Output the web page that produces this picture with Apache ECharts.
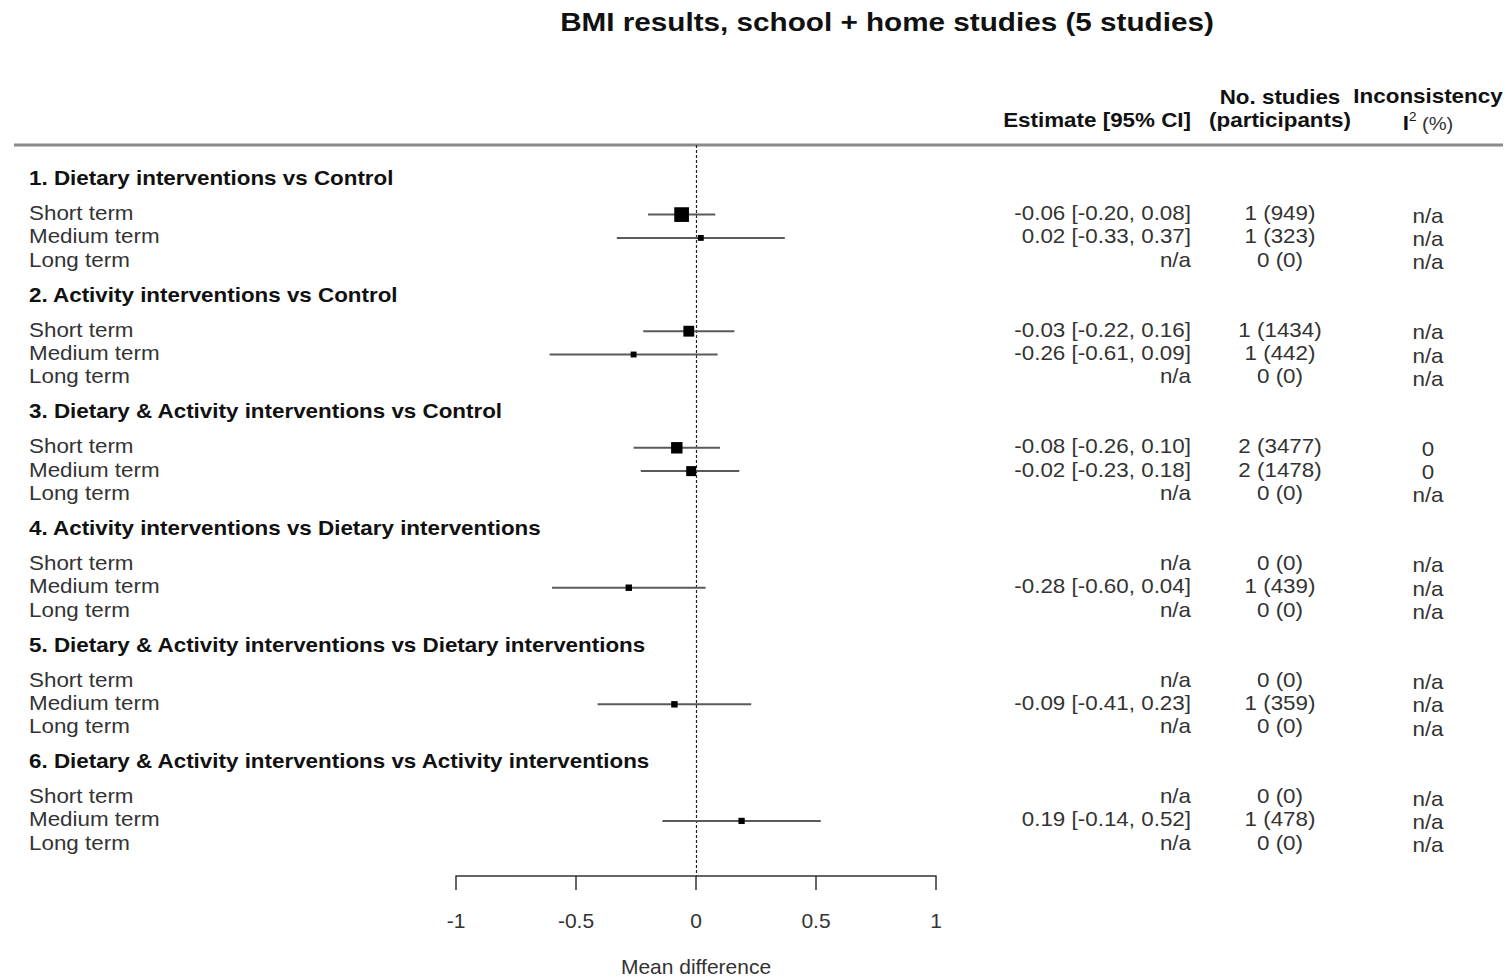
<!DOCTYPE html>
<html>
<head>
<meta charset="utf-8">
<script src="https://cdn.jsdelivr.net/npm/echarts@6/dist/echarts.min.js"></script>
<style>
html,body{margin:0;padding:0;background:#fff;}
#chart{width:1506px;height:977px;}
</style>
</head>
<body>
<div id="chart"></div>
<script>
// ---------------- DATA ----------------
const titleText = 'BMI results, school + home studies (5 studies)';
const groups = [
  '1. Dietary interventions vs Control',
  '2. Activity interventions vs Control',
  '3. Dietary & Activity interventions vs Control',
  '4. Activity interventions vs Dietary interventions',
  '5. Dietary & Activity interventions vs Dietary interventions',
  '6. Dietary & Activity interventions vs Activity interventions'
];
const terms = ['Short term', 'Medium term', 'Long term'];
const estimate = [[-0.06, 0.02, null], [-0.03, -0.26, null], [-0.08, -0.02, null], [null, -0.28, null], [null, -0.09, null], [null, 0.19, null]];
const ciLower  = [[-0.20, -0.33, null], [-0.22, -0.61, null], [-0.26, -0.23, null], [null, -0.60, null], [null, -0.41, null], [null, -0.14, null]];
const ciUpper  = [[0.08, 0.37, null], [0.16, 0.09, null], [0.10, 0.18, null], [null, 0.04, null], [null, 0.23, null], [null, 0.52, null]];
const nStudies = [[1, 1, 0], [1, 1, 0], [2, 2, 0], [0, 1, 0], [0, 1, 0], [0, 1, 0]];
const participants = [[949, 323, 0], [1434, 442, 0], [3477, 1478, 0], [0, 439, 0], [0, 359, 0], [0, 478, 0]];
const iSquared = [[null, null, null], [null, null, null], [0, 0, null], [null, null, null], [null, null, null], [null, null, null]];
const xTickMin = -1, xTickMax = 1, xTickStep = 0.5;
const xAxisTitle = 'Mean difference';
const colHeaders = {
  estimate: 'Estimate [95% CI]',
  studies1: 'No. studies',
  studies2: '(participants)',
  incons1: 'Inconsistency'
};

// ---------------- LAYOUT ----------------
const FONT = "'Liberation Sans', Arial, Helvetica, sans-serif";
const SX = 1.12;          // horizontal stretch of text in the reference
const ROW = 23.32;        // px per row unit
const GRID_TOP = 145, GRID_H = 731, GRID_LEFT = 456, GRID_W = 480;
const Y_MAX = GRID_H / ROW;
function headY(g) { return 1.42 + 5 * g; }
function termY(g, t) { return 2.92 + 5 * g + t; }
const fmt2 = v => v.toFixed(2);

// rows for text
const rows = [];
groups.forEach((name, g) => {
  rows.push({ kind: 'head', text: name, y: headY(g) });
  terms.forEach((tn, t) => {
    const e = estimate[g][t];
    rows.push({
      kind: 'term', text: tn, y: termY(g, t),
      est: e == null ? 'n/a' : fmt2(e) + ' [' + fmt2(ciLower[g][t]) + ', ' + fmt2(ciUpper[g][t]) + ']',
      stud: nStudies[g][t] + ' (' + participants[g][t] + ')',
      i2: iSquared[g][t] == null ? 'n/a' : String(iSquared[g][t])
    });
  });
});

// forest points
const forest = [];
groups.forEach((name, g) => {
  terms.forEach((tn, t) => {
    if (estimate[g][t] != null) forest.push([estimate[g][t], ciLower[g][t], ciUpper[g][t], termY(g, t)]);
  });
});

const chart = echarts.init(document.getElementById('chart'), null, { renderer: 'svg' });

function txt(x, y, text, opts) {
  return {
    type: 'text', x: x, y: y, scaleX: SX,
    style: Object.assign({
      text: text, fontFamily: FONT, fontSize: 20, fontWeight: 'normal',
      fill: '#333', align: 'left', verticalAlign: 'middle'
    }, opts || {})
  };
}

const option = {
  backgroundColor: '#fff',
  animation: false,
  grid: { left: GRID_LEFT, top: GRID_TOP, width: GRID_W, height: GRID_H, containLabel: false, outerBoundsMode: 'none' },
  xAxis: {
    type: 'value', min: xTickMin, max: xTickMax, interval: xTickStep,
    position: 'bottom',
    axisLine: { show: true, onZero: false, lineStyle: { color: '#333', width: 1.5 } },
    axisTick: { show: true, length: 14, inside: false, lineStyle: { color: '#333', width: 1.5 } },
    axisLabel: { fontFamily: FONT, fontSize: 21, color: '#333', margin: 34 },
    splitLine: { show: false },
    name: xAxisTitle, nameLocation: 'middle', nameGap: 80,
    nameTextStyle: { fontFamily: FONT, fontSize: 21, color: '#333' }
  },
  yAxis: { type: 'value', min: 0, max: Y_MAX, interval: Y_MAX, inverse: true, show: false },
  graphic: [
    txt(887, 22, titleText, { align: 'center', fontSize: 26.5, fontWeight: 'bold', fill: '#111' }),
    txt(1191, 120, colHeaders.estimate, { align: 'right', fontWeight: 'bold', fill: '#111' }),
    txt(1280, 97, colHeaders.studies1, { align: 'center', fontWeight: 'bold', fill: '#111' }),
    txt(1280, 120, colHeaders.studies2, { align: 'center', fontWeight: 'bold', fill: '#111' }),
    txt(1428, 96, colHeaders.incons1, { align: 'center', fontWeight: 'bold', fill: '#111' }),
    {
      type: 'text', x: 1428, y: 122, scaleX: SX,
      style: {
        text: '{b|I}{s|2}{n| (%)}', align: 'center', verticalAlign: 'middle',
        rich: {
          b: { fontFamily: FONT, fontSize: 20, fontWeight: 'bold', fill: '#111', verticalAlign: 'bottom' },
          s: { fontFamily: FONT, fontSize: 12, fill: '#111', verticalAlign: 'top', padding: [0, 0, 10, 0] },
          n: { fontFamily: FONT, fontSize: 18, fill: '#333', verticalAlign: 'bottom' }
        }
      }
    },
    { type: 'line', shape: { x1: 14, y1: 145, x2: 1503, y2: 145 }, style: { stroke: '#8a8a8a', lineWidth: 3 } }
  ],
  series: [
    {
      type: 'custom', name: 'forest',
      coordinateSystem: 'cartesian2d',
      encode: { x: [0, 1, 2], y: 3 },
      data: forest,
      renderItem: function (params, api) {
        const e = api.value(0), lo = api.value(1), hi = api.value(2), y = api.value(3);
        const pLo = api.coord([lo, y]), pHi = api.coord([hi, y]), pE = api.coord([e, y]);
        const se = (hi - lo) / 3.92;
        const s = 1.05 / se;
        return {
          type: 'group',
          children: [
            { type: 'line', shape: { x1: pLo[0], y1: pLo[1] + 1.5, x2: pHi[0], y2: pHi[1] + 1.5 }, style: { stroke: '#5a5a5a', lineWidth: 2 } },
            { type: 'rect', shape: { x: pE[0] - s / 2, y: pE[1] + 1.5 - s / 2, width: s, height: s }, style: { fill: '#000' } }
          ]
        };
      },
      markLine: {
        silent: true, symbol: ['none', 'none'],
        label: { show: false },
        lineStyle: { type: [3, 2], color: '#222', width: 1.2 },
        data: [{ xAxis: 0 }]
      },
      z: 5
    },
    {
      type: 'custom', name: 'text',
      coordinateSystem: 'cartesian2d',
      encode: { x: 0, y: 1 },
      data: rows.map(r => [0, r.y]),
      clip: false,
      renderItem: function (params, api) {
        const r = rows[params.dataIndex];
        const py = api.coord([0, api.value(1)])[1];
        if (r.kind === 'head') {
          return txt(29, py, r.text, { fontWeight: 'bold', fill: '#111' });
        }
        return {
          type: 'group',
          children: [
            txt(29, py, r.text),
            txt(1191, py, r.est, { align: 'right' }),
            txt(1280, py, r.stud, { align: 'center' }),
            txt(1428, py + 2.5, r.i2, { align: 'center' })
          ]
        };
      }
    }
  ]
};
chart.setOption(option);
</script>
</body>
</html>
